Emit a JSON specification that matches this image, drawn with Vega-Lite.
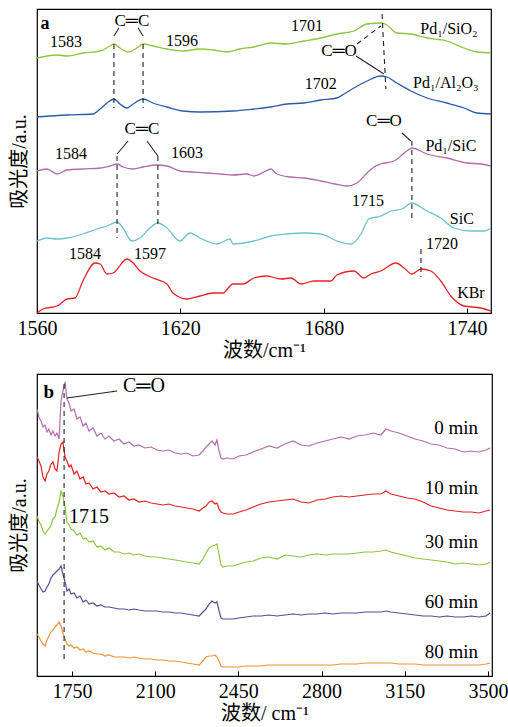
{
"$schema": "https://vega.github.io/schema/vega-lite/v6.json",
"padding": {"left": 8, "top": 8, "right": 12, "bottom": 2},
"background": "white",
"spacing": 12,
"resolve": {"scale": {"color": "independent"}},
"config": {
 "font": "Liberation Serif",
 "view": {"stroke": "#000", "strokeWidth": 1.2},
 "axis": {"labelFont": "Liberation Serif", "titleFont": "Liberation Serif, Noto Sans CJK SC", "labelFontSize": 20, "titleFontSize": 20, "titleFontWeight": "normal", "labelColor": "#000", "titleColor": "#000", "grid": false, "domain": false, "tickColor": "#000"},
 "text": {"font": "Liberation Serif", "color": "#000"}
},
"datasets": {
 "a": [
  {"s":"SiO2","x":1560,"y":255},{"s":"SiO2","x":1568.4,"y":258},{"s":"SiO2","x":1572.6,"y":257},{"s":"SiO2","x":1579.2,"y":260},{"s":"SiO2","x":1586.4,"y":262},{"s":"SiO2","x":1590.5,"y":267},{"s":"SiO2","x":1592.2,"y":269},{"s":"SiO2","x":1594.7,"y":265},{"s":"SiO2","x":1598.1,"y":261},{"s":"SiO2","x":1601.8,"y":265},{"s":"SiO2","x":1604.4,"y":269},{"s":"SiO2","x":1608.5,"y":267},{"s":"SiO2","x":1614.4,"y":264},{"s":"SiO2","x":1621.1,"y":262},{"s":"SiO2","x":1628.2,"y":264},{"s":"SiO2","x":1633.6,"y":263},{"s":"SiO2","x":1639.5,"y":261},{"s":"SiO2","x":1644.9,"y":264},{"s":"SiO2","x":1650.8,"y":266},{"s":"SiO2","x":1657.9,"y":270},{"s":"SiO2","x":1664.6,"y":269},{"s":"SiO2","x":1671.7,"y":272},{"s":"SiO2","x":1678.8,"y":275},{"s":"SiO2","x":1685.5,"y":279},{"s":"SiO2","x":1692.6,"y":282},{"s":"SiO2","x":1698.1,"y":289},{"s":"SiO2","x":1704.3,"y":290},{"s":"SiO2","x":1706.4,"y":288},{"s":"SiO2","x":1710.6,"y":280},{"s":"SiO2","x":1716.5,"y":279},{"s":"SiO2","x":1723.2,"y":275},{"s":"SiO2","x":1731.5,"y":272},{"s":"SiO2","x":1738.7,"y":265},{"s":"SiO2","x":1744.1,"y":261},{"s":"SiO2","x":1750,"y":260},
  {"s":"Al2O3","x":1560,"y":196},{"s":"Al2O3","x":1572.6,"y":198},{"s":"Al2O3","x":1583.4,"y":199},{"s":"Al2O3","x":1586.4,"y":204},{"s":"Al2O3","x":1589.3,"y":210},{"s":"Al2O3","x":1592.2,"y":214},{"s":"Al2O3","x":1594.7,"y":209},{"s":"Al2O3","x":1597.7,"y":205},{"s":"Al2O3","x":1600.2,"y":209},{"s":"Al2O3","x":1604.4,"y":214},{"s":"Al2O3","x":1608.5,"y":210},{"s":"Al2O3","x":1614.4,"y":206},{"s":"Al2O3","x":1621.1,"y":202},{"s":"Al2O3","x":1628.2,"y":201},{"s":"Al2O3","x":1642.0,"y":202},{"s":"Al2O3","x":1650.8,"y":204},{"s":"Al2O3","x":1657.9,"y":206},{"s":"Al2O3","x":1664.6,"y":209},{"s":"Al2O3","x":1671.7,"y":210},{"s":"Al2O3","x":1678.8,"y":213},{"s":"Al2O3","x":1685.5,"y":215},{"s":"Al2O3","x":1688.5,"y":219},{"s":"Al2O3","x":1692.6,"y":225},{"s":"Al2O3","x":1698.1,"y":232},{"s":"Al2O3","x":1703.9,"y":237},{"s":"Al2O3","x":1706.4,"y":236},{"s":"Al2O3","x":1710.6,"y":230},{"s":"Al2O3","x":1716.5,"y":222},{"s":"Al2O3","x":1723.2,"y":215},{"s":"Al2O3","x":1731.5,"y":210},{"s":"Al2O3","x":1738.7,"y":205},{"s":"Al2O3","x":1744.1,"y":200},{"s":"Al2O3","x":1750,"y":199},
  {"s":"PdSiC","x":1560,"y":142},{"s":"PdSiC","x":1564.2,"y":144},{"s":"PdSiC","x":1568.4,"y":139},{"s":"PdSiC","x":1572.6,"y":143},{"s":"PdSiC","x":1579.2,"y":144},{"s":"PdSiC","x":1586.4,"y":145},{"s":"PdSiC","x":1590.5,"y":147},{"s":"PdSiC","x":1593.5,"y":149},{"s":"PdSiC","x":1596.0,"y":146},{"s":"PdSiC","x":1600.2,"y":144},{"s":"PdSiC","x":1604.4,"y":146},{"s":"PdSiC","x":1610.2,"y":148},{"s":"PdSiC","x":1614.4,"y":147},{"s":"PdSiC","x":1619.8,"y":142},{"s":"PdSiC","x":1625.3,"y":141},{"s":"PdSiC","x":1631.1,"y":140},{"s":"PdSiC","x":1636.6,"y":139},{"s":"PdSiC","x":1642.0,"y":138},{"s":"PdSiC","x":1647.9,"y":139},{"s":"PdSiC","x":1650.8,"y":137},{"s":"PdSiC","x":1655.0,"y":141},{"s":"PdSiC","x":1657.9,"y":144},{"s":"PdSiC","x":1660.4,"y":139},{"s":"PdSiC","x":1665.9,"y":136},{"s":"PdSiC","x":1671.7,"y":135},{"s":"PdSiC","x":1678.8,"y":132},{"s":"PdSiC","x":1684.7,"y":129},{"s":"PdSiC","x":1689.7,"y":127},{"s":"PdSiC","x":1693.9,"y":130},{"s":"PdSiC","x":1698.1,"y":140},{"s":"PdSiC","x":1701.0,"y":146},{"s":"PdSiC","x":1703.9,"y":149},{"s":"PdSiC","x":1709.4,"y":152},{"s":"PdSiC","x":1714.8,"y":162},{"s":"PdSiC","x":1716.9,"y":165},{"s":"PdSiC","x":1723.2,"y":159},{"s":"PdSiC","x":1731.5,"y":155},{"s":"PdSiC","x":1739.9,"y":150},{"s":"PdSiC","x":1745.8,"y":149},{"s":"PdSiC","x":1750,"y":147},
  {"s":"SiC","x":1560,"y":72},{"s":"SiC","x":1564.2,"y":75},{"s":"SiC","x":1568.4,"y":74},{"s":"SiC","x":1572.6,"y":75},{"s":"SiC","x":1579.2,"y":79},{"s":"SiC","x":1585.1,"y":84},{"s":"SiC","x":1589.3,"y":87},{"s":"SiC","x":1593.5,"y":91},{"s":"SiC","x":1596.0,"y":85},{"s":"SiC","x":1599.7,"y":72},{"s":"SiC","x":1603.1,"y":75},{"s":"SiC","x":1607.3,"y":85},{"s":"SiC","x":1610.6,"y":90},{"s":"SiC","x":1614.4,"y":85},{"s":"SiC","x":1619.8,"y":72},{"s":"SiC","x":1624.0,"y":80},{"s":"SiC","x":1628.2,"y":75},{"s":"SiC","x":1635.3,"y":69},{"s":"SiC","x":1640.8,"y":74},{"s":"SiC","x":1642.0,"y":69},{"s":"SiC","x":1650.8,"y":72},{"s":"SiC","x":1657.9,"y":77},{"s":"SiC","x":1664.6,"y":79},{"s":"SiC","x":1671.7,"y":80},{"s":"SiC","x":1678.8,"y":79},{"s":"SiC","x":1685.5,"y":72},{"s":"SiC","x":1691.4,"y":69},{"s":"SiC","x":1695.6,"y":79},{"s":"SiC","x":1698.9,"y":94},{"s":"SiC","x":1703.9,"y":97},{"s":"SiC","x":1708.1,"y":102},{"s":"SiC","x":1712.7,"y":104},{"s":"SiC","x":1716.9,"y":110},{"s":"SiC","x":1723.2,"y":102},{"s":"SiC","x":1729.0,"y":95},{"s":"SiC","x":1734.5,"y":85},{"s":"SiC","x":1741.6,"y":82},{"s":"SiC","x":1747.0,"y":82},{"s":"SiC","x":1750,"y":85},
  {"s":"KBr","x":1560,"y":0},{"s":"KBr","x":1562.5,"y":4},{"s":"KBr","x":1568.4,"y":7},{"s":"KBr","x":1572.6,"y":14},{"s":"KBr","x":1575.9,"y":15},{"s":"KBr","x":1579.2,"y":32},{"s":"KBr","x":1584.3,"y":50},{"s":"KBr","x":1586.4,"y":49},{"s":"KBr","x":1589.3,"y":39},{"s":"KBr","x":1591.8,"y":40},{"s":"KBr","x":1597.7,"y":54},{"s":"KBr","x":1600.2,"y":50},{"s":"KBr","x":1603.1,"y":42},{"s":"KBr","x":1608.5,"y":35},{"s":"KBr","x":1614.4,"y":29},{"s":"KBr","x":1616.9,"y":20},{"s":"KBr","x":1622.8,"y":14},{"s":"KBr","x":1628.2,"y":17},{"s":"KBr","x":1633.6,"y":20},{"s":"KBr","x":1637.8,"y":20},{"s":"KBr","x":1642.0,"y":29},{"s":"KBr","x":1646.2,"y":29},{"s":"KBr","x":1650.8,"y":35},{"s":"KBr","x":1656.2,"y":37},{"s":"KBr","x":1662.1,"y":34},{"s":"KBr","x":1666.3,"y":35},{"s":"KBr","x":1670.5,"y":29},{"s":"KBr","x":1675.9,"y":32},{"s":"KBr","x":1683.0,"y":32},{"s":"KBr","x":1685.5,"y":38},{"s":"KBr","x":1692.6,"y":42},{"s":"KBr","x":1696.8,"y":35},{"s":"KBr","x":1699.7,"y":39},{"s":"KBr","x":1703.9,"y":42},{"s":"KBr","x":1710.2,"y":50},{"s":"KBr","x":1713.6,"y":45},{"s":"KBr","x":1716.9,"y":39},{"s":"KBr","x":1720.7,"y":44},{"s":"KBr","x":1724.8,"y":42},{"s":"KBr","x":1729.0,"y":32},{"s":"KBr","x":1733.2,"y":17},{"s":"KBr","x":1738.7,"y":7},{"s":"KBr","x":1745.8,"y":5},{"s":"KBr","x":1750,"y":2}
 ],
 "aseg": [
  {"k":"dash","x":1592.2,"x2":1592.2,"y":269,"y2":205},
  {"k":"dash","x":1604.4,"x2":1604.4,"y":269,"y2":205},
  {"k":"dash","x":1593.5,"x2":1593.5,"y":157,"y2":75},
  {"k":"dash","x":1610.6,"x2":1610.6,"y":157,"y2":89},
  {"k":"dash","x":1704.4,"x2":1706.0,"y":299,"y2":224},
  {"k":"dash","x":1693.9,"x2":1703.9,"y":269,"y2":287},
  {"k":"dash","x":1716.9,"x2":1716.9,"y":172,"y2":95},
  {"k":"dash","x":1720.7,"x2":1720.7,"y":64,"y2":36},
  {"k":"solid","x":1592.2,"x2":1594.3,"y":277,"y2":285},
  {"k":"solid","x":1604.4,"x2":1602.3,"y":277,"y2":285},
  {"k":"solid","x":1593.5,"x2":1598.1,"y":159,"y2":172},
  {"k":"solid","x":1610.6,"x2":1606.0,"y":157,"y2":172},
  {"k":"solid","x":1693.5,"x2":1705.2,"y":257,"y2":239},
  {"k":"solid","x":1712.7,"x2":1716.5,"y":180,"y2":172}
 ],
 "atext": [
  {"k":"tag","t":"a","x":1563.3,"y":289},
  {"k":"peak","t":"1583","x":1572.1,"y":271},
  {"k":"peak","t":"1596","x":1620.7,"y":272},
  {"k":"peak","t":"1701","x":1673.0,"y":287},
  {"k":"bond","t":"C═C","x":1599.7,"y":292},
  {"k":"bond","t":"C═O","x":1686.4,"y":262},
  {"k":"peak","t":"1702","x":1678.8,"y":229},
  {"k":"name","t":"Pd₁/SiO₂","x":1732.4,"y":284},
  {"k":"name","t":"Pd₁/Al₂O₃","x":1731.1,"y":230},
  {"k":"name","t":"Pd₁/SiC","x":1733.2,"y":167},
  {"k":"bond","t":"C═C","x":1603.9,"y":184},
  {"k":"peak","t":"1584","x":1574.2,"y":159},
  {"k":"peak","t":"1603","x":1622.8,"y":160},
  {"k":"bond","t":"C═O","x":1705.2,"y":192},
  {"k":"peak","t":"1715","x":1698.5,"y":112},
  {"k":"name","t":"SiC","x":1737.8,"y":94},
  {"k":"peak","t":"1584","x":1580.1,"y":59},
  {"k":"peak","t":"1597","x":1607.3,"y":59},
  {"k":"peak","t":"1720","x":1729.5,"y":69},
  {"k":"name","t":"KBr","x":1741.6,"y":20}
 ],
 "b": [
  {"s":"0","x":1603,"y":267},{"s":"0","x":1611,"y":259},{"s":"0","x":1620,"y":255},{"s":"0","x":1628,"y":249},{"s":"0","x":1637,"y":251},{"s":"0","x":1645,"y":244},{"s":"0","x":1653,"y":247},{"s":"0","x":1662,"y":241},{"s":"0","x":1670,"y":245},{"s":"0","x":1679,"y":240},
  {"s":"0","x":1687,"y":243},{"s":"0","x":1696,"y":237},{"s":"0","x":1704,"y":275},{"s":"0","x":1712,"y":285},{"s":"0","x":1721,"y":294},{"s":"0","x":1729,"y":277},{"s":"0","x":1738,"y":273},{"s":"0","x":1746,"y":265},{"s":"0","x":1759,"y":267},{"s":"0","x":1771,"y":257},
  {"s":"0","x":1784,"y":259},{"s":"0","x":1797,"y":250},{"s":"0","x":1809,"y":253},{"s":"0","x":1822,"y":245},{"s":"0","x":1839,"y":248},{"s":"0","x":1855,"y":240},{"s":"0","x":1872,"y":243},{"s":"0","x":1889,"y":237},{"s":"0","x":1906,"y":240},{"s":"0","x":1927,"y":235},
  {"s":"0","x":1948,"y":237},{"s":"0","x":1969,"y":232},{"s":"0","x":1990,"y":234},{"s":"0","x":2011,"y":230},{"s":"0","x":2032,"y":231},{"s":"0","x":2057,"y":228},{"s":"0","x":2083,"y":229},{"s":"0","x":2108,"y":226},{"s":"0","x":2133,"y":225},{"s":"0","x":2158,"y":226},
  {"s":"0","x":2184,"y":223},{"s":"0","x":2209,"y":222},{"s":"0","x":2234,"y":223},{"s":"0","x":2259,"y":220},{"s":"0","x":2285,"y":221},{"s":"0","x":2301,"y":225},{"s":"0","x":2314,"y":229},{"s":"0","x":2327,"y":232},{"s":"0","x":2339,"y":235},{"s":"0","x":2352,"y":231},
  {"s":"0","x":2360,"y":236},{"s":"0","x":2369,"y":225},{"s":"0","x":2377,"y":218},{"s":"0","x":2385,"y":217},{"s":"0","x":2402,"y":218},{"s":"0","x":2428,"y":217},{"s":"0","x":2453,"y":220},{"s":"0","x":2482,"y":221},{"s":"0","x":2512,"y":224},{"s":"0","x":2545,"y":227},
  {"s":"0","x":2579,"y":230},{"s":"0","x":2613,"y":228},{"s":"0","x":2646,"y":232},{"s":"0","x":2680,"y":235},{"s":"0","x":2714,"y":231},{"s":"0","x":2747,"y":230},{"s":"0","x":2781,"y":233},{"s":"0","x":2815,"y":235},{"s":"0","x":2848,"y":237},{"s":"0","x":2882,"y":239},
  {"s":"0","x":2916,"y":237},{"s":"0","x":2949,"y":240},{"s":"0","x":2983,"y":241},{"s":"0","x":3017,"y":243},{"s":"0","x":3050,"y":241},{"s":"0","x":3071,"y":247},{"s":"0","x":3092,"y":245},{"s":"0","x":3126,"y":243},{"s":"0","x":3160,"y":240},{"s":"0","x":3193,"y":237},
  {"s":"0","x":3227,"y":235},{"s":"0","x":3261,"y":232},{"s":"0","x":3294,"y":231},{"s":"0","x":3328,"y":228},{"s":"0","x":3362,"y":227},{"s":"0","x":3395,"y":224},{"s":"0","x":3429,"y":225},{"s":"0","x":3462,"y":224},{"s":"0","x":3492,"y":226},{"s":"0","x":3509,"y":228},
  {"s":"10","x":1603,"y":219},{"s":"10","x":1611,"y":215},{"s":"10","x":1620,"y":210},{"s":"10","x":1628,"y":199},{"s":"10","x":1637,"y":195},{"s":"10","x":1645,"y":202},{"s":"10","x":1653,"y":205},{"s":"10","x":1662,"y":212},{"s":"10","x":1670,"y":214},{"s":"10","x":1679,"y":207},
  {"s":"10","x":1687,"y":205},{"s":"10","x":1696,"y":224},{"s":"10","x":1704,"y":232},{"s":"10","x":1712,"y":234},{"s":"10","x":1721,"y":219},{"s":"10","x":1729,"y":215},{"s":"10","x":1738,"y":209},{"s":"10","x":1746,"y":211},{"s":"10","x":1759,"y":202},{"s":"10","x":1771,"y":205},
  {"s":"10","x":1784,"y":197},{"s":"10","x":1797,"y":199},{"s":"10","x":1809,"y":192},{"s":"10","x":1822,"y":193},{"s":"10","x":1839,"y":187},{"s":"10","x":1855,"y":189},{"s":"10","x":1872,"y":184},{"s":"10","x":1889,"y":185},{"s":"10","x":1906,"y":182},{"s":"10","x":1927,"y":183},
  {"s":"10","x":1948,"y":179},{"s":"10","x":1969,"y":180},{"s":"10","x":1990,"y":176},{"s":"10","x":2011,"y":177},{"s":"10","x":2032,"y":174},{"s":"10","x":2057,"y":175},{"s":"10","x":2083,"y":173},{"s":"10","x":2108,"y":172},{"s":"10","x":2133,"y":171},{"s":"10","x":2158,"y":172},
  {"s":"10","x":2184,"y":170},{"s":"10","x":2209,"y":169},{"s":"10","x":2234,"y":168},{"s":"10","x":2259,"y":167},{"s":"10","x":2285,"y":165},{"s":"10","x":2301,"y":168},{"s":"10","x":2314,"y":170},{"s":"10","x":2327,"y":174},{"s":"10","x":2339,"y":175},{"s":"10","x":2352,"y":172},
  {"s":"10","x":2360,"y":173},{"s":"10","x":2369,"y":167},{"s":"10","x":2377,"y":164},{"s":"10","x":2385,"y":163},{"s":"10","x":2402,"y":162},{"s":"10","x":2428,"y":162},{"s":"10","x":2453,"y":164},{"s":"10","x":2482,"y":166},{"s":"10","x":2512,"y":169},{"s":"10","x":2545,"y":172},
  {"s":"10","x":2579,"y":174},{"s":"10","x":2613,"y":175},{"s":"10","x":2646,"y":176},{"s":"10","x":2680,"y":177},{"s":"10","x":2714,"y":174},{"s":"10","x":2747,"y":173},{"s":"10","x":2781,"y":176},{"s":"10","x":2815,"y":177},{"s":"10","x":2848,"y":179},{"s":"10","x":2882,"y":180},
  {"s":"10","x":2916,"y":179},{"s":"10","x":2949,"y":180},{"s":"10","x":2983,"y":181},{"s":"10","x":3017,"y":182},{"s":"10","x":3050,"y":182},{"s":"10","x":3071,"y":185},{"s":"10","x":3092,"y":182},{"s":"10","x":3126,"y":180},{"s":"10","x":3160,"y":178},{"s":"10","x":3193,"y":177},
  {"s":"10","x":3227,"y":174},{"s":"10","x":3261,"y":170},{"s":"10","x":3294,"y":168},{"s":"10","x":3328,"y":166},{"s":"10","x":3362,"y":165},{"s":"10","x":3395,"y":164},{"s":"10","x":3429,"y":164},{"s":"10","x":3462,"y":163},{"s":"10","x":3492,"y":165},{"s":"10","x":3509,"y":166},
  {"s":"30","x":1603,"y":160},{"s":"30","x":1611,"y":155},{"s":"30","x":1620,"y":151},{"s":"30","x":1628,"y":145},{"s":"30","x":1637,"y":142},{"s":"30","x":1645,"y":145},{"s":"30","x":1653,"y":147},{"s":"30","x":1662,"y":151},{"s":"30","x":1670,"y":157},{"s":"30","x":1679,"y":159},
  {"s":"30","x":1687,"y":167},{"s":"30","x":1696,"y":174},{"s":"30","x":1704,"y":185},{"s":"30","x":1712,"y":180},{"s":"30","x":1721,"y":169},{"s":"30","x":1729,"y":154},{"s":"30","x":1738,"y":151},{"s":"30","x":1746,"y":147},{"s":"30","x":1759,"y":145},{"s":"30","x":1771,"y":141},
  {"s":"30","x":1784,"y":143},{"s":"30","x":1797,"y":137},{"s":"30","x":1809,"y":138},{"s":"30","x":1822,"y":134},{"s":"30","x":1839,"y":135},{"s":"30","x":1855,"y":129},{"s":"30","x":1872,"y":130},{"s":"30","x":1889,"y":126},{"s":"30","x":1906,"y":128},{"s":"30","x":1927,"y":124},
  {"s":"30","x":1948,"y":124},{"s":"30","x":1969,"y":122},{"s":"30","x":1990,"y":123},{"s":"30","x":2011,"y":121},{"s":"30","x":2032,"y":122},{"s":"30","x":2057,"y":120},{"s":"30","x":2083,"y":119},{"s":"30","x":2108,"y":119},{"s":"30","x":2133,"y":118},{"s":"30","x":2158,"y":117},
  {"s":"30","x":2184,"y":116},{"s":"30","x":2209,"y":115},{"s":"30","x":2234,"y":114},{"s":"30","x":2259,"y":113},{"s":"30","x":2285,"y":112},{"s":"30","x":2301,"y":117},{"s":"30","x":2314,"y":123},{"s":"30","x":2327,"y":128},{"s":"30","x":2339,"y":130},{"s":"30","x":2352,"y":131},
  {"s":"30","x":2360,"y":132},{"s":"30","x":2369,"y":121},{"s":"30","x":2377,"y":111},{"s":"30","x":2385,"y":109},{"s":"30","x":2402,"y":110},{"s":"30","x":2428,"y":110},{"s":"30","x":2453,"y":112},{"s":"30","x":2482,"y":114},{"s":"30","x":2512,"y":115},{"s":"30","x":2545,"y":118},
  {"s":"30","x":2579,"y":119},{"s":"30","x":2613,"y":117},{"s":"30","x":2646,"y":121},{"s":"30","x":2680,"y":120},{"s":"30","x":2714,"y":119},{"s":"30","x":2747,"y":121},{"s":"30","x":2781,"y":122},{"s":"30","x":2815,"y":121},{"s":"30","x":2848,"y":122},{"s":"30","x":2882,"y":122},
  {"s":"30","x":2916,"y":122},{"s":"30","x":2949,"y":123},{"s":"30","x":2983,"y":124},{"s":"30","x":3017,"y":124},{"s":"30","x":3050,"y":125},{"s":"30","x":3071,"y":126},{"s":"30","x":3092,"y":124},{"s":"30","x":3126,"y":122},{"s":"30","x":3160,"y":120},{"s":"30","x":3193,"y":118},
  {"s":"30","x":3227,"y":117},{"s":"30","x":3261,"y":116},{"s":"30","x":3294,"y":115},{"s":"30","x":3328,"y":114},{"s":"30","x":3362,"y":112},{"s":"30","x":3395,"y":113},{"s":"30","x":3429,"y":112},{"s":"30","x":3462,"y":111},{"s":"30","x":3492,"y":112},{"s":"30","x":3509,"y":114},
  {"s":"60","x":1603,"y":95},{"s":"60","x":1611,"y":91},{"s":"60","x":1620,"y":87},{"s":"60","x":1628,"y":84},{"s":"60","x":1637,"y":85},{"s":"60","x":1645,"y":89},{"s":"60","x":1653,"y":92},{"s":"60","x":1662,"y":98},{"s":"60","x":1670,"y":101},{"s":"60","x":1679,"y":103},
  {"s":"60","x":1687,"y":105},{"s":"60","x":1696,"y":107},{"s":"60","x":1704,"y":110},{"s":"60","x":1712,"y":102},{"s":"60","x":1721,"y":94},{"s":"60","x":1729,"y":85},{"s":"60","x":1738,"y":87},{"s":"60","x":1746,"y":82},{"s":"60","x":1759,"y":83},{"s":"60","x":1771,"y":78},
  {"s":"60","x":1784,"y":80},{"s":"60","x":1797,"y":74},{"s":"60","x":1809,"y":76},{"s":"60","x":1822,"y":72},{"s":"60","x":1839,"y":73},{"s":"60","x":1855,"y":70},{"s":"60","x":1872,"y":71},{"s":"60","x":1889,"y":69},{"s":"60","x":1906,"y":69},{"s":"60","x":1927,"y":68},
  {"s":"60","x":1948,"y":67},{"s":"60","x":1969,"y":67},{"s":"60","x":1990,"y":66},{"s":"60","x":2011,"y":67},{"s":"60","x":2032,"y":66},{"s":"60","x":2057,"y":65},{"s":"60","x":2083,"y":65},{"s":"60","x":2108,"y":65},{"s":"60","x":2133,"y":64},{"s":"60","x":2158,"y":64},
  {"s":"60","x":2184,"y":63},{"s":"60","x":2209,"y":63},{"s":"60","x":2234,"y":62},{"s":"60","x":2259,"y":61},{"s":"60","x":2285,"y":60},{"s":"60","x":2301,"y":64},{"s":"60","x":2314,"y":67},{"s":"60","x":2327,"y":72},{"s":"60","x":2339,"y":75},{"s":"60","x":2352,"y":73},
  {"s":"60","x":2360,"y":74},{"s":"60","x":2369,"y":65},{"s":"60","x":2377,"y":58},{"s":"60","x":2385,"y":57},{"s":"60","x":2402,"y":57},{"s":"60","x":2428,"y":57},{"s":"60","x":2453,"y":58},{"s":"60","x":2482,"y":59},{"s":"60","x":2512,"y":60},{"s":"60","x":2545,"y":60},
  {"s":"60","x":2579,"y":61},{"s":"60","x":2613,"y":60},{"s":"60","x":2646,"y":61},{"s":"60","x":2680,"y":62},{"s":"60","x":2714,"y":61},{"s":"60","x":2747,"y":62},{"s":"60","x":2781,"y":62},{"s":"60","x":2815,"y":63},{"s":"60","x":2848,"y":62},{"s":"60","x":2882,"y":63},
  {"s":"60","x":2916,"y":63},{"s":"60","x":2949,"y":63},{"s":"60","x":2983,"y":64},{"s":"60","x":3017,"y":64},{"s":"60","x":3050,"y":64},{"s":"60","x":3071,"y":65},{"s":"60","x":3092,"y":64},{"s":"60","x":3126,"y":63},{"s":"60","x":3160,"y":62},{"s":"60","x":3193,"y":61},
  {"s":"60","x":3227,"y":60},{"s":"60","x":3261,"y":60},{"s":"60","x":3294,"y":59},{"s":"60","x":3328,"y":60},{"s":"60","x":3362,"y":59},{"s":"60","x":3395,"y":59},{"s":"60","x":3429,"y":60},{"s":"60","x":3462,"y":59},{"s":"60","x":3492,"y":60},{"s":"60","x":3509,"y":63},
  {"s":"80","x":1603,"y":42},{"s":"80","x":1611,"y":39},{"s":"80","x":1620,"y":35},{"s":"80","x":1628,"y":32},{"s":"80","x":1637,"y":30},{"s":"80","x":1645,"y":36},{"s":"80","x":1653,"y":40},{"s":"80","x":1662,"y":44},{"s":"80","x":1670,"y":46},{"s":"80","x":1679,"y":49},
  {"s":"80","x":1687,"y":51},{"s":"80","x":1696,"y":54},{"s":"80","x":1704,"y":50},{"s":"80","x":1712,"y":43},{"s":"80","x":1721,"y":37},{"s":"80","x":1729,"y":32},{"s":"80","x":1738,"y":30},{"s":"80","x":1746,"y":31},{"s":"80","x":1759,"y":28},{"s":"80","x":1771,"y":29},
  {"s":"80","x":1784,"y":26},{"s":"80","x":1797,"y":27},{"s":"80","x":1809,"y":24},{"s":"80","x":1822,"y":25},{"s":"80","x":1839,"y":23},{"s":"80","x":1855,"y":22},{"s":"80","x":1872,"y":22},{"s":"80","x":1889,"y":20},{"s":"80","x":1906,"y":21},{"s":"80","x":1927,"y":19},
  {"s":"80","x":1948,"y":19},{"s":"80","x":1969,"y":19},{"s":"80","x":1990,"y":18},{"s":"80","x":2011,"y":19},{"s":"80","x":2032,"y":18},{"s":"80","x":2057,"y":17},{"s":"80","x":2083,"y":17},{"s":"80","x":2108,"y":16},{"s":"80","x":2133,"y":16},{"s":"80","x":2158,"y":15},
  {"s":"80","x":2184,"y":15},{"s":"80","x":2209,"y":14},{"s":"80","x":2234,"y":13},{"s":"80","x":2259,"y":12},{"s":"80","x":2285,"y":11},{"s":"80","x":2301,"y":15},{"s":"80","x":2314,"y":19},{"s":"80","x":2327,"y":20},{"s":"80","x":2339,"y":20},{"s":"80","x":2352,"y":21},
  {"s":"80","x":2360,"y":19},{"s":"80","x":2369,"y":15},{"s":"80","x":2377,"y":10},{"s":"80","x":2385,"y":9},{"s":"80","x":2402,"y":9},{"s":"80","x":2428,"y":9},{"s":"80","x":2453,"y":9},{"s":"80","x":2482,"y":10},{"s":"80","x":2512,"y":10},{"s":"80","x":2545,"y":10},
  {"s":"80","x":2579,"y":11},{"s":"80","x":2613,"y":11},{"s":"80","x":2646,"y":11},{"s":"80","x":2680,"y":11},{"s":"80","x":2714,"y":11},{"s":"80","x":2747,"y":11},{"s":"80","x":2781,"y":11},{"s":"80","x":2815,"y":11},{"s":"80","x":2848,"y":11},{"s":"80","x":2882,"y":12},
  {"s":"80","x":2916,"y":12},{"s":"80","x":2949,"y":12},{"s":"80","x":2983,"y":13},{"s":"80","x":3017,"y":13},{"s":"80","x":3050,"y":13},{"s":"80","x":3071,"y":13},{"s":"80","x":3092,"y":13},{"s":"80","x":3126,"y":12},{"s":"80","x":3160,"y":12},{"s":"80","x":3193,"y":12},
  {"s":"80","x":3227,"y":11},{"s":"80","x":3261,"y":11},{"s":"80","x":3294,"y":11},{"s":"80","x":3328,"y":11},{"s":"80","x":3362,"y":11},{"s":"80","x":3395,"y":11},{"s":"80","x":3429,"y":11},{"s":"80","x":3462,"y":11},{"s":"80","x":3492,"y":12},{"s":"80","x":3509,"y":13}
 ],
 "bseg": [
  {"k":"dash","x":1717,"x2":1717,"y":292,"y2":15},
  {"k":"solid","x":1729,"x2":1940,"y":278,"y2":285}
 ],
 "btext": [
  {"k":"tag","t":"b","x":1653,"y":284},
  {"k":"bond","t":"C═O","x":2053,"y":290},
  {"k":"peak","t":"1715","x":1822,"y":159},
  {"k":"name","t":"0 min","x":3458,"y":248},
  {"k":"name","t":"10 min","x":3458,"y":188},
  {"k":"name","t":"30 min","x":3458,"y":134},
  {"k":"name","t":"60 min","x":3458,"y":74},
  {"k":"name","t":"80 min","x":3458,"y":24}
 ]
},
"vconcat": [
 {
  "width": 454, "height": 304,
  "encoding": {
   "x": {"field": "x", "type": "quantitative", "scale": {"domain": [1560, 1750], "nice": false, "zero": false},
         "axis": {"title": "波数/cm⁻¹", "format": "d", "labelFont": "Liberation Serif", "values": [1560, 1620, 1680, 1740], "tickSize": -5, "labelPadding": 10, "titlePadding": 2, "labelFlush": false}},
   "y": {"field": "y", "type": "quantitative", "scale": {"domain": [0, 304], "nice": false, "zero": false},
         "axis": {"title": "吸光度/a.u.", "labels": false, "ticks": false, "titlePadding": 8}}
  },
  "layer": [
   {"data": {"name": "a"}, "mark": {"type": "line", "strokeWidth": 1.3, "interpolate": "monotone", "clip": true},
    "encoding": {"color": {"field": "s", "type": "nominal", "legend": null,
      "scale": {"domain": ["SiO2", "Al2O3", "PdSiC", "SiC", "KBr"], "range": ["#8DC63F", "#2D5BA8", "#B26AAE", "#6CC2D0", "#E52429"]}}}},
   {"data": {"name": "aseg"}, "transform": [{"filter": "datum.k == 'dash'"}], "mark": {"type": "rule", "strokeDash": [5, 4], "strokeWidth": 1.1, "color": "#222"},
    "encoding": {"x2": {"field": "x2"}, "y2": {"field": "y2"}}},
   {"data": {"name": "aseg"}, "transform": [{"filter": "datum.k == 'solid'"}], "mark": {"type": "rule", "strokeWidth": 1.1, "color": "#222"},
    "encoding": {"x2": {"field": "x2"}, "y2": {"field": "y2"}}},
   {"data": {"name": "atext"}, "transform": [{"filter": "datum.k == 'tag'"}], "mark": {"type": "text", "fontSize": 18, "fontWeight": "bold", "align": "center", "baseline": "middle"},
    "encoding": {"text": {"field": "t"}}},
   {"data": {"name": "atext"}, "transform": [{"filter": "datum.k == 'peak' || datum.k == 'name'"}], "mark": {"type": "text", "fontSize": 16, "align": "center", "baseline": "middle", "font": "Liberation Serif, DejaVu Serif"},
    "encoding": {"text": {"field": "t"}}},
   {"data": {"name": "atext"}, "transform": [{"filter": "datum.k == 'bond'"}], "mark": {"type": "text", "fontSize": 17, "align": "center", "baseline": "middle", "font": "Liberation Serif, DejaVu Serif"},
    "encoding": {"text": {"field": "t"}}}
  ]
 },
 {
  "width": 455, "height": 302,
  "encoding": {
   "x": {"field": "x", "type": "quantitative", "scale": {"domain": [1603, 3517], "nice": false, "zero": false},
         "axis": {"title": "波数/ cm⁻¹", "format": "d", "labelFont": "Liberation Serif", "values": [1750, 2100, 2450, 2800, 3150, 3500], "tickSize": -5, "labelPadding": 10, "titlePadding": 2, "labelFlush": false}},
   "y": {"field": "y", "type": "quantitative", "scale": {"domain": [0, 302], "nice": false, "zero": false},
         "axis": {"title": "吸光度/a.u.", "labels": false, "ticks": false, "titlePadding": 8}}
  },
  "layer": [
   {"data": {"name": "b"}, "mark": {"type": "line", "strokeWidth": 1.2, "clip": true},
    "encoding": {"color": {"field": "s", "type": "nominal", "legend": null,
      "scale": {"domain": ["0", "10", "30", "60", "80"], "range": ["#B36DB0", "#E3221F", "#8CC63E", "#5B4A9B", "#F39237"]}}}},
   {"data": {"name": "bseg"}, "transform": [{"filter": "datum.k == 'dash'"}], "mark": {"type": "rule", "strokeDash": [5, 4], "strokeWidth": 1.1, "color": "#222"},
    "encoding": {"x2": {"field": "x2"}, "y2": {"field": "y2"}}},
   {"data": {"name": "bseg"}, "transform": [{"filter": "datum.k == 'solid'"}], "mark": {"type": "rule", "strokeWidth": 1.1, "color": "#222"},
    "encoding": {"x2": {"field": "x2"}, "y2": {"field": "y2"}}},
   {"data": {"name": "btext"}, "transform": [{"filter": "datum.k == 'tag'"}], "mark": {"type": "text", "fontSize": 19, "fontWeight": "bold", "align": "center", "baseline": "middle"},
    "encoding": {"text": {"field": "t"}}},
   {"data": {"name": "btext"}, "transform": [{"filter": "datum.k == 'peak' || datum.k == 'bond'"}], "mark": {"type": "text", "fontSize": 20, "align": "center", "baseline": "middle", "font": "Liberation Serif, DejaVu Serif"},
    "encoding": {"text": {"field": "t"}}},
   {"data": {"name": "btext"}, "transform": [{"filter": "datum.k == 'name'"}], "mark": {"type": "text", "fontSize": 19, "align": "right", "baseline": "middle"},
    "encoding": {"text": {"field": "t"}}}
  ]
 }
]
}
